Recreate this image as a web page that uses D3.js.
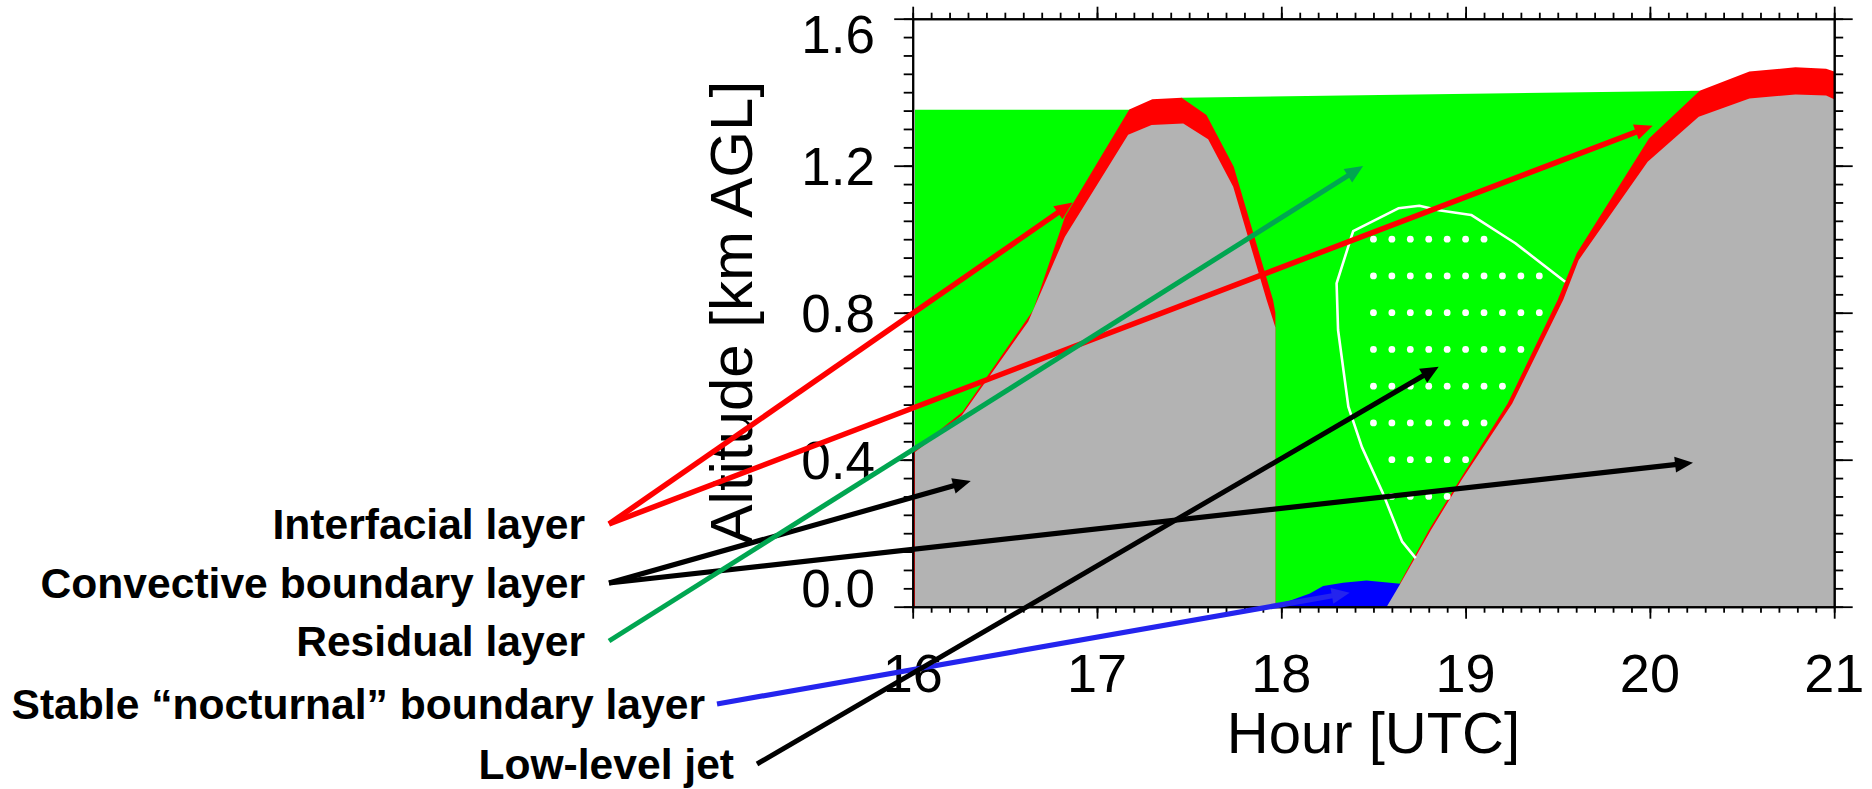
<!DOCTYPE html>
<html>
<head>
<meta charset="utf-8">
<script src="https://cdn.jsdelivr.net/npm/d3@7"></script>
<style>
  html, body { margin: 0; padding: 0; background: #fff; }
  svg { display: block; }
</style>
</head>
<body>
<svg id="chart" width="1872" height="789"></svg>
<script>
// ---- Boundary-layer evolution, 16–21 UTC (altitude in km AGL) ----

const hourTicks = [16, 17, 18, 19, 20, 21];
const altTicks = [0.0, 0.4, 0.8, 1.2, 1.6];

// Residual layer: top of the layer
const rlHours = [16.012, 17.2, 17.46, 20.27];
const rlTop   = [1.352, 1.352, 1.385, 1.404];

// Interfacial layer top, first convective episode
const il1Hours = [16.006, 16.27, 16.654, 16.826, 17.175, 17.30, 17.459, 17.594, 17.742, 17.955, 17.968];
const il1Top   = [0.425, 0.53, 0.807, 1.061, 1.353, 1.381, 1.385, 1.338, 1.197, 0.835, 0.80];

// Convective boundary layer top, first convective episode
const cbl1Hours = [16.012, 16.266, 16.627, 16.826, 17.169, 17.296, 17.468, 17.603, 17.739, 17.92, 17.968];
const cbl1Top   = [0.42, 0.52, 0.776, 1.007, 1.284, 1.311, 1.315, 1.272, 1.143, 0.835, 0.76];

// Interfacial layer top, second convective episode
const il2Hours = [18.565, 18.641, 18.801, 18.968, 19.228, 19.50, 19.603, 19.995, 20.27, 20.54, 20.79, 20.956, 21.0];
const il2Top   = [0.0, 0.062, 0.209, 0.345, 0.553, 0.835, 0.962, 1.274, 1.404, 1.456, 1.468, 1.464, 1.456];

// Convective boundary layer top, second convective episode
const cbl2Hours = [18.572, 18.645, 18.812, 18.978, 19.253, 19.53, 19.613, 19.988, 20.265, 20.54, 20.79, 20.956, 21.0];
const cbl2Top   = [0.0, 0.062, 0.209, 0.345, 0.553, 0.835, 0.943, 1.211, 1.333, 1.383, 1.394, 1.391, 1.381];

// Stable ("nocturnal") boundary layer top
const sblHours = [17.968, 18.046, 18.155, 18.227, 18.335, 18.462, 18.66];
const sblTop   = [0.005, 0.016, 0.036, 0.056, 0.065, 0.071, 0.062];

// Low-level jet outline
const jetHours = [18.729, 18.656, 18.551, 18.437, 18.364, 18.308, 18.30, 18.39, 18.635, 18.749, 18.854, 19.03, 19.27, 19.54];
const jetAlt   = [0.132, 0.177, 0.309, 0.435, 0.544, 0.753, 0.88, 1.022, 1.084, 1.091, 1.079, 1.066, 0.989, 0.884];

// Low-level jet core samples (rows on the 0.1 h grid)
const jetDotAlt       = [1.0, 0.9, 0.8, 0.7, 0.6, 0.5, 0.4, 0.3];
const jetDotFirstHour = [18.5, 18.5, 18.5, 18.5, 18.5, 18.5, 18.6, 18.6];
const jetDotLastHour  = [19.1, 19.4, 19.4, 19.3, 19.2, 19.1, 19.0, 18.9];

// Annotation names and the points their arrows indicate
const layerNames = [
  "Interfacial layer",
  "Convective boundary layer",
  "Residual layer",
  "Stable \u201cnocturnal\u201d boundary layer",
  "Low-level jet"
];
const arrowTipHours = [[16.868, 20.015], [16.315, 20.234], [18.444], [18.371], [18.854]];
const arrowTipAlts  = [[1.100, 1.309], [0.342, 0.392], [1.199], [0.038], [0.653]];

// ---- layout & style ----
const FONT = "'Liberation Sans', Arial, Helvetica, sans-serif";
const svg = d3.select("#chart");

const x = d3.scaleLinear().domain([16, 21]).range([912.7, 1834.2]);
const y = d3.scaleLinear().domain([0, 1.6]).range([606.7, 18.7]);

const zip = (a, b) => a.map((v, i) => [v, b[i]]);
const area = d3.area().x(d => x(d[0])).y0(y(0)).y1(d => y(d[1]));

// filled layers, back to front
const layers = [
  [rlHours, rlTop, "#00ff00"],
  [il1Hours, il1Top, "#ff0000"],
  [il2Hours, il2Top, "#ff0000"],
  [sblHours, sblTop, "#0000ff"],
  [cbl1Hours, cbl1Top, "#b3b3b3"],
  [cbl2Hours, cbl2Top, "#b3b3b3"]
];
svg.append("g").selectAll("path").data(layers).join("path")
  .attr("d", d => area(zip(d[0], d[1])))
  .attr("fill", d => d[2]);

// jet outline
svg.append("path")
  .attr("d", d3.line().x(d => x(d[0])).y(d => y(d[1]))(zip(jetHours, jetAlt)))
  .attr("fill", "none").attr("stroke", "#fff").attr("stroke-width", 2.6)
  .attr("stroke-linejoin", "round");

// jet core dots
const dots = [];
jetDotAlt.forEach((a, i) => {
  const n = Math.round((jetDotLastHour[i] - jetDotFirstHour[i]) / 0.1);
  for (let k = 0; k <= n; k++) dots.push([jetDotFirstHour[i] + k * 0.1, a]);
});
svg.append("g").selectAll("circle").data(dots).join("circle")
  .attr("cx", d => x(d[0])).attr("cy", d => y(d[1])).attr("r", 3.4)
  .attr("fill", "#fff");

// ---- axes: box with outward major/minor ticks ----
function styleAxis(g) {
  g.selectAll("path.domain").attr("stroke", "#000").attr("stroke-width", 2);
  g.selectAll(".tick line").attr("stroke", "#000").attr("stroke-width", 1.8);
  g.selectAll(".tick text").remove();
}
const minorHours = d3.range(160, 211).map(v => v / 10);
const minorAlts = d3.range(0, 33).map(v => v / 20);

const axisDefs = [
  [d3.axisBottom(x).tickValues(hourTicks).tickSize(12), `translate(0,${y(0)})`],
  [d3.axisBottom(x).tickValues(minorHours).tickSize(6), `translate(0,${y(0)})`],
  [d3.axisTop(x).tickValues(hourTicks).tickSize(12), `translate(0,${y(1.6)})`],
  [d3.axisTop(x).tickValues(minorHours).tickSize(6), `translate(0,${y(1.6)})`],
  [d3.axisLeft(y).tickValues(altTicks).tickSize(18.5), `translate(${x(16)},0)`],
  [d3.axisLeft(y).tickValues(minorAlts).tickSize(9), `translate(${x(16)},0)`],
  [d3.axisRight(y).tickValues(altTicks).tickSize(18.5), `translate(${x(21)},0)`],
  [d3.axisRight(y).tickValues(minorAlts).tickSize(9), `translate(${x(21)},0)`]
];
axisDefs.forEach(([ax, tr]) => {
  svg.append("g").attr("transform", tr).call(ax.tickSizeOuter(0)).call(styleAxis);
});

// tick labels
svg.append("g").selectAll("text").data(hourTicks).join("text")
  .attr("x", d => x(d)).attr("y", 692)
  .attr("text-anchor", "middle")
  .attr("font-family", FONT).attr("font-size", 54)
  .text(d => d);

svg.append("g").selectAll("text").data(altTicks).join("text")
  .attr("x", 875)
  .attr("y", d => Math.max(53.3, Math.min(y(0), y(d) + 19.3)))
  .attr("text-anchor", "end")
  .attr("font-family", FONT).attr("font-size", 53)
  .text(d => d3.format(".1f")(d));

// axis titles
svg.append("text")
  .attr("x", (x(16) + x(21)) / 2).attr("y", 753)
  .attr("text-anchor", "middle")
  .attr("font-family", FONT).attr("font-size", 58)
  .text("Hour [UTC]");

svg.append("text")
  .attr("transform", `translate(752,${(y(0) + y(1.6)) / 2}) rotate(-90)`)
  .attr("text-anchor", "middle")
  .attr("font-family", FONT).attr("font-size", 60)
  .text("Altitude [km AGL]");

// ---- annotations ----
const labelRight    = [585, 585, 585, 705, 734];
const labelBaseline = [539, 598, 656, 719, 779];
const tailGap       = [24, 24, 24, 12, 23];
const arrowColor    = ["#ff0000", "#000000", "#00a651", "#2424ee", "#000000"];
const arrowWidth    = [5.5, 5.2, 5, 5.2, 5];

svg.append("g").selectAll("text").data(layerNames).join("text")
  .attr("x", (d, i) => labelRight[i]).attr("y", (d, i) => labelBaseline[i])
  .attr("text-anchor", "end")
  .attr("font-family", FONT).attr("font-weight", "bold").attr("font-size", 42.6)
  .text(d => d);

const HEAD_LEN = 18, HEAD_HALF = 8;
const arrows = svg.append("g");
layerNames.forEach((name, i) => {
  const tx = labelRight[i] + tailGap[i];
  const ty = labelBaseline[i] - 15;
  arrowTipHours[i].forEach((h, j) => {
    const px = x(h), py = y(arrowTipAlts[i][j]);
    const dx = px - tx, dy = py - ty, len = Math.hypot(dx, dy);
    const ux = dx / len, uy = dy / len;
    const bx = px - ux * HEAD_LEN, by = py - uy * HEAD_LEN;
    arrows.append("line")
      .attr("x1", tx).attr("y1", ty)
      .attr("x2", bx + ux * 2).attr("y2", by + uy * 2)
      .attr("stroke", arrowColor[i]).attr("stroke-width", arrowWidth[i]);
    arrows.append("path")
      .attr("d", `M${px},${py}L${bx - uy * HEAD_HALF},${by + ux * HEAD_HALF}L${bx + uy * HEAD_HALF},${by - ux * HEAD_HALF}Z`)
      .attr("fill", arrowColor[i]);
  });
});
</script>
</body>
</html>
